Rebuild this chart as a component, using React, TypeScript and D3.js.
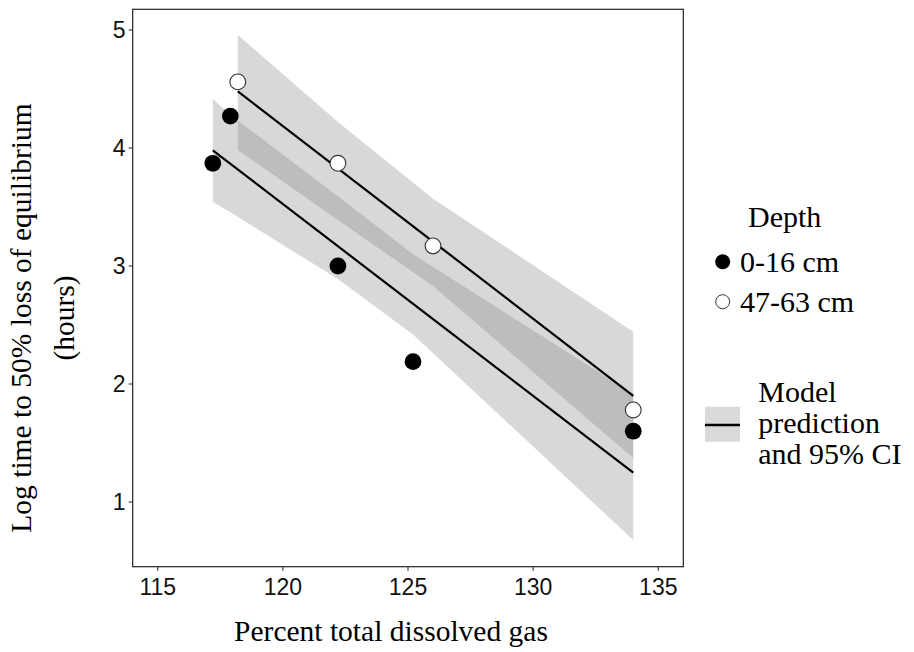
import React from "react";
import { scaleLinear, area, line, curveLinear } from "d3";

const width = 914;
const height = 652;
const panel = { left: 132.7, right: 683.3, top: 9.3, bottom: 566.7 };

// observed points
const shallowX = [117.2, 117.9, 122.2, 125.2, 134];
const shallowY = [3.87, 4.27, 3.0, 2.19, 1.6];
const deepX = [118.2, 122.2, 126, 134];
const deepY = [4.56, 3.87, 3.17, 1.78];

// model prediction lines (ends)
const shallowFitX = [117.2, 134];
const shallowFitY = [3.98, 1.25];
const deepFitX = [118.2, 134];
const deepFitY = [4.48, 1.9];

// 95% CI bounds at each observed x
const shallowUpper = [4.415, 4.28, 3.59, 3.1, 1.915];
const shallowLower = [3.545, 3.455, 2.89, 2.42, 0.678];
const deepUpper = [4.958, 4.22, 3.57, 2.443];
const deepLower = [3.983, 3.39, 2.83, 1.373];

const xTicks = [115, 120, 125, 130, 135];
const yTicks = [1, 2, 3, 4, 5];

const depthLabels = ["0-16 cm", "47-63 cm"];

const App = () => {
  const x = scaleLinear().domain([114, 136]).range([panel.left, panel.right]);
  const y = scaleLinear().domain([0.452, 5.175]).range([panel.bottom, panel.top]);

  const band = (xs: number[], lo: number[], hi: number[]) =>
    area<number>()
      .x((d) => x(xs[d]))
      .y0((d) => y(lo[d]))
      .y1((d) => y(hi[d]))
      .curve(curveLinear)(xs.map((_, i) => i)) || "";

  const fit = (xs: number[], ys: number[]) =>
    line<number>()
      .x((d) => x(xs[d]))
      .y((d) => y(ys[d]))(xs.map((_, i) => i)) || "";

  const sans = "'Liberation Sans', Arial, sans-serif";
  const serif = "'Liberation Serif', 'Times New Roman', serif";
  const cx = (panel.left + panel.right) / 2;

  return (
    <svg
      width={width}
      height={height}
      style={{ position: "absolute", left: 0, top: 0, background: "#fff" }}
    >
      <rect x={0} y={0} width={width} height={height} fill="#fff" />

      {/* CI bands */}
      <path d={band(shallowX, shallowLower, shallowUpper)} fill="#7f7f7f" fillOpacity={0.3} />
      <path d={band(deepX, deepLower, deepUpper)} fill="#7f7f7f" fillOpacity={0.3} />

      {/* prediction lines */}
      <path d={fit(shallowFitX, shallowFitY)} stroke="#000" strokeWidth={2.2} fill="none" />
      <path d={fit(deepFitX, deepFitY)} stroke="#000" strokeWidth={2.2} fill="none" />

      {/* points */}
      {shallowX.map((v, i) => (
        <circle key={"s" + i} cx={x(v)} cy={y(shallowY[i])} r={8.4} fill="#000" />
      ))}
      {deepX.map((v, i) => (
        <circle
          key={"d" + i}
          cx={x(v)}
          cy={y(deepY[i])}
          r={7.9}
          fill="#fff"
          stroke="#333"
          strokeWidth={1.1}
        />
      ))}

      {/* panel border */}
      <rect
        x={panel.left}
        y={panel.top}
        width={panel.right - panel.left}
        height={panel.bottom - panel.top}
        fill="none"
        stroke="#222"
        strokeWidth={1.2}
      />

      {/* x axis */}
      {xTicks.map((t) => (
        <g key={"x" + t} transform={`translate(${x(t)},0)`}>
          <line y1={panel.bottom} y2={panel.bottom + 4} stroke="#333" strokeWidth={1.1} />
          <text
            y={594.5}
            textAnchor="middle"
            fontFamily={sans}
            fontSize={23}
            fill="#111"
          >
            {t}
          </text>
        </g>
      ))}

      {/* y axis */}
      {yTicks.map((t) => (
        <g key={"y" + t} transform={`translate(0,${y(t)})`}>
          <line x1={panel.left - 4} x2={panel.left} stroke="#333" strokeWidth={1.1} />
          <text
            x={125.5}
            dy="0.36em"
            textAnchor="end"
            fontFamily={sans}
            fontSize={23}
            fill="#111"
          >
            {t}
          </text>
        </g>
      ))}

      {/* axis titles */}
      <text x={cx - 17} y={641} textAnchor="middle" fontFamily={serif} fontSize={29.5} fill="#000">
        Percent total dissolved gas
      </text>
      <g transform="rotate(-90)">
        <text x={-318} y={31} textAnchor="middle" fontFamily={serif} fontSize={29.5} fill="#000">
          Log time to 50% loss of equilibrium
        </text>
        <text x={-318} y={74} textAnchor="middle" fontFamily={serif} fontSize={29.5} fill="#000">
          (hours)
        </text>
      </g>

      {/* legend: depth */}
      <text x={748} y={226.7} fontFamily={serif} fontSize={30} fill="#000">
        Depth
      </text>
      <circle cx={722.7} cy={261.7} r={7.5} fill="#000" />
      <text x={740} y={271.7} fontFamily={serif} fontSize={30} fill="#000">
        {depthLabels[0]}
      </text>
      <circle cx={722.7} cy={301.7} r={7} fill="#fff" stroke="#333" strokeWidth={1} />
      <text x={740} y={311.7} fontFamily={serif} fontSize={30} fill="#000">
        {depthLabels[1]}
      </text>

      {/* legend: model */}
      <rect x={705} y={406.7} width={35} height={35} fill="#d9d9d9" />
      <line x1={705} x2={740} y1={425} y2={425} stroke="#000" strokeWidth={2.5} />
      <text fontFamily={serif} fontSize={30} fill="#000">
        <tspan x={758.3} y={401.7}>Model</tspan>
        <tspan x={758.3} y={432.5}>prediction</tspan>
        <tspan x={758.3} y={463.5}>and 95% CI</tspan>
      </text>
    </svg>
  );
};

export default App;
